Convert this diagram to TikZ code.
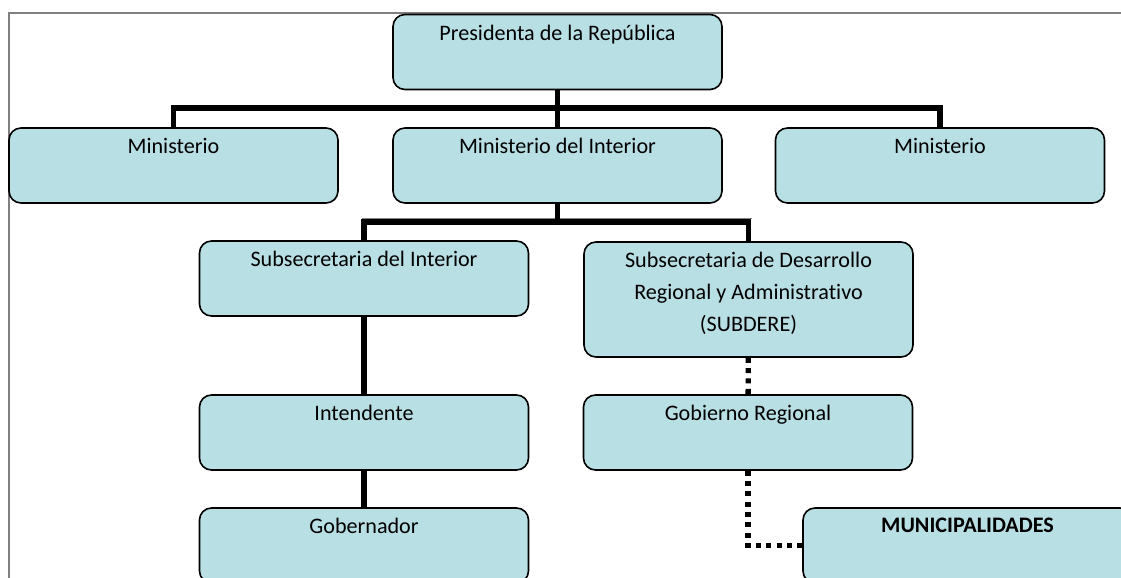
\documentclass[tikz,border=0pt]{standalone}
\usepackage{fontspec}
\setmainfont{Carlito}[Ligatures=NoCommon]
\definecolor{boxfill}{RGB}{184,223,227}
\tikzset{
  orgbox/.style={draw=black, line width=1.2pt, fill=boxfill, rounded corners=9pt,
    minimum width=246.75pt, minimum height=56.25pt, inner sep=0pt},
  boxtext/.style={anchor=north, inner sep=8pt, align=center,
    font=\fontsize{16.6}{24}\selectfont},
  link/.style={line width=4pt},
  dotlink/.style={line width=4pt, dash pattern=on 3.75pt off 4pt},
  elbow/.style={to path={-| (\tikztotarget)}},
  drop/.style={to path={|- (\tikztotarget)}}
}
\begin{document}
\begin{tikzpicture}[x=0.75pt,y=-0.75pt]
\clip (0,0) rectangle (1121,578);
%\draw [help lines] (0,0) grid (1121,578);
\draw[gray, line width=0.8pt] (9,578) -- (9,13) -- (1121,13);
\draw[gray, line width=0.6pt] (362,218.5) -- (752,218.5);

\node[orgbox, label={[boxtext]north:Presidenta de la República}] (P0) at (557.5,52) {};
\node[orgbox, label={[boxtext]north:Ministerio}] (P1) at (173.5,165.5) {};
\node[orgbox, label={[boxtext]north:Ministerio del Interior}] (P2) at (557.5,165.5) {};
\node[orgbox, label={[boxtext]north:Ministerio}] (P3) at (940,165.5) {};

\node[orgbox, label={[boxtext]north:Subsecretaria del Interior}] (P4) at (364,278.5) {};
\node[orgbox, minimum height=86.25pt,
  label={[boxtext]north:Subsecretaria de Desarrollo\\Regional y Administrativo\\(SUBDERE)}] (P5) at (748.5,299.5) {};

\node[orgbox, label={[boxtext]north:Intendente}] (P6) at (364,432.5) {};
\node[orgbox, label={[boxtext]north:Gobernador}] (P7) at (364,545.5) {};

\node[orgbox, label={[boxtext]north:Gobierno Regional}] (P8) at (748,432.5) {};
\node[orgbox, label={[boxtext,font=\fontsize{16.6}{24}\selectfont\bfseries]north:MUNICIPALIDADES}] (P9) at (967.5,545.5) {};

% bus lines
\coordinate (B0) at (557.5,108);
\coordinate (B1) at (557.5,222);

\path[link]
% presidenta to ministerios
(P0) edge (B0)
(B0) edge (P2)
(B0) edge[elbow] (P1)
(B0) edge[elbow] (P3)

% interior to subsecretarias
(P2) edge (B1)
(B1) edge[elbow] (P4)
(B1) edge[elbow] (P5)

% intendente, gobernador
(P4) edge (P6)
(P6) edge (P7);

\path[dotlink]
% subdere to regional government
(P5) edge (P8)
% regional government to municipalities
(P8) edge[drop] (P9);

\end{tikzpicture}
\end{document}
